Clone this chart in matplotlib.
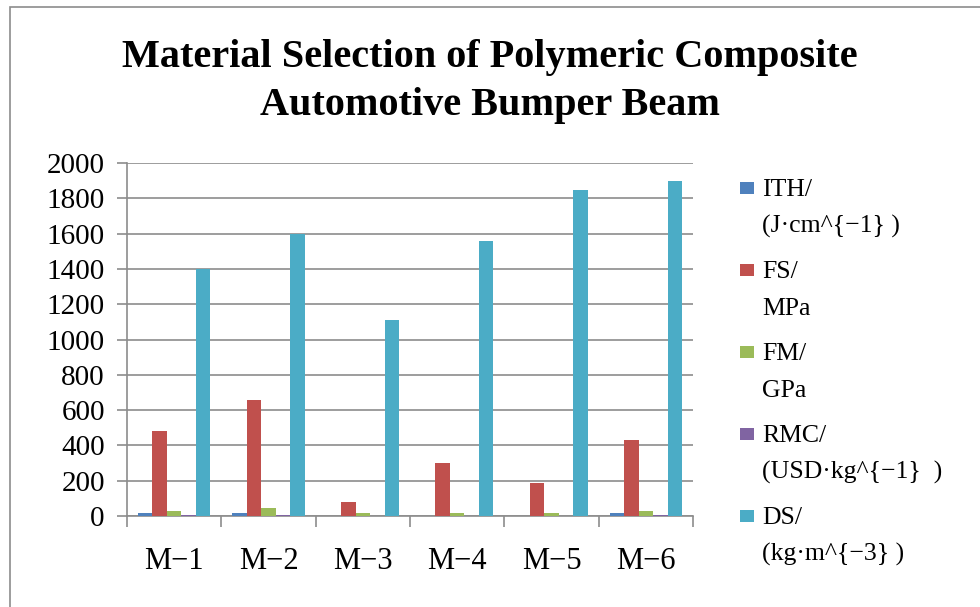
import numpy as np
import matplotlib
matplotlib.use("Agg")
import matplotlib.pyplot as plt
from matplotlib.patches import Rectangle

# data
categories = ["M\u22121", "M\u22122", "M\u22123", "M\u22124", "M\u22125", "M\u22126"]
ith = [15, 15, 2, 2, 2, 15]
fs = [480, 660, 82, 300, 185, 430]
fm = [30, 44, 17, 17, 17, 30]
rmc = [3, 3, 2, 2, 2, 3]
ds = [1400, 1600, 1110, 1560, 1845, 1900]

series_names = ["ITH/\n(J\u00b7cm^{\u22121} )", "FS/\nMPa", "FM/\nGPa",
                "RMC/\n(USD\u00b7kg^{\u22121}  )", "DS/\n(kg\u00b7m^{\u22123} )"]
colors = ["#4F81BD", "#C0504D", "#9BBB59", "#8064A2", "#4BACC6"]

plt.rcParams['font.family'] = ['Liberation Serif', 'DejaVu Serif']

W, H = 980, 607
fig = plt.figure(figsize=(W / 100, H / 100), dpi=100)
ax = fig.add_axes([127 / W, 1 - 516 / H, 566 / W, 353 / H])

# outer chart border
fig.patches.append(Rectangle((10 / W, -0.1), 1.2, 1 - 7 / H + 0.1,
                             transform=fig.transFigure, fill=False,
                             edgecolor="#8c8c8c", linewidth=1.2))

x = np.arange(len(categories))
w = 0.154
all_series = [ith, fs, fm, rmc, ds]
for i, (vals, c) in enumerate(zip(all_series, colors)):
    ax.bar(x + (i - 2) * w, vals, width=w, color=c, zorder=3)

grey = "#8c8c8c"
ax.set_xlim(-0.5, len(categories) - 0.5)
ax.set_ylim(0, 2000)
ax.set_yticks(range(0, 2001, 200))
ax.yaxis.grid(True, color=grey, linewidth=1.2, zorder=0)
ax.set_xticks(x)
ax.set_xticklabels(categories)
ax.set_xticks(np.arange(-0.5, len(categories)), minor=True)
ax.tick_params(axis="x", which="major", length=0, pad=22, labelsize=22)
ax.tick_params(axis="x", which="minor", length=8, color=grey, width=1.2)
ax.tick_params(axis="y", length=7, color=grey, width=1.2, labelsize=21, pad=9)
for s in ["top", "right"]:
    ax.spines[s].set_visible(False)
for s in ["left", "bottom"]:
    ax.spines[s].set_color(grey)
    ax.spines[s].set_linewidth(1.2)

fig.text(0.5, 1 - 67 / H, "Material Selection of Polymeric Composite",
         ha="center", va="baseline", fontsize=29, fontweight="bold")
fig.text(0.5, 1 - 115 / H, "Automotive Bumper Beam",
         ha="center", va="baseline", fontsize=29, fontweight="bold")

# legend: square marker beside the first line of each two-line label
for i, (name, c) in enumerate(zip(series_names, colors)):
    base = 196 + 82 * i
    fig.patches.append(Rectangle((740 / W, 1 - (base - 2) / H), 14 / W, 12 / H,
                                 transform=fig.transFigure, facecolor=c,
                                 edgecolor="none"))
    for j, line in enumerate(name.split("\n")):
        fig.text(762 / W, 1 - (base + 37 * j) / H, line, ha="left",
                 va="baseline", fontsize=18.5)

fig.savefig("out.png", dpi=100)
